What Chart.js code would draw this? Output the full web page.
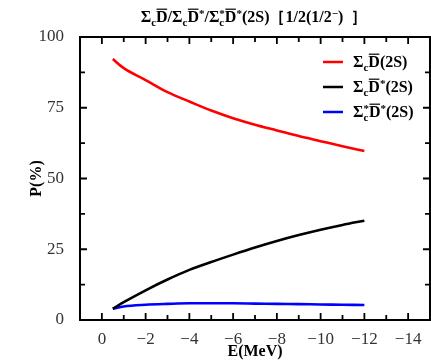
<!DOCTYPE html>
<html>
<head>
<meta charset="utf-8">
<script src="https://cdn.jsdelivr.net/npm/chart.js@4/dist/chart.umd.min.js"></script>
<style>
  body { margin: 0; background: #fff; }
  #wrap { width: 431px; height: 361px; }
</style>
</head>
<body>
<div id="wrap"><canvas id="prob" width="431" height="361"></canvas></div>
<script>
// binding energy (MeV) and probabilities (%) of each channel
const energies = [-0.5, -1, -2, -3, -4, -5, -6, -7, -8, -9, -10, -11, -12];
const pSigmaD = [92.2, 89.0, 84.8, 80.5, 77.2, 74.0, 71.3, 69.0, 67.0, 65.0, 63.2, 61.4, 59.7];
const pSigmaDstar = [4.0, 6.3, 10.5, 14.3, 17.7, 20.5, 23.1, 25.6, 27.9, 30.0, 31.9, 33.6, 35.1];
const pSigmaStarDstar = [4.0, 4.8, 5.4, 5.7, 5.9, 5.9, 5.9, 5.8, 5.7, 5.6, 5.5, 5.4, 5.3];

const seriesNames = ["ΣcD̄(2S)", "ΣcD̄*(2S)", "Σc*D̄*(2S)"];
const seriesColors = ["#ff0000", "#000000", "#0000ff"];
const xTickLabels = [0, -2, -4, -6, -8, -10, -12, -14];
const yTickLabels = [0, 25, 50, 75, 100];

// rich text pieces: base text, optional sub/sup, optional overline
const legendParts = [
  [{ t: "Σ", sub: "c" }, { t: "D", bar: true }, { t: "(2S)" }],
  [{ t: "Σ", sub: "c" }, { t: "D", bar: true, sup: "*" }, { t: "(2S)" }],
  [{ t: "Σ", sub: "c", sup: "*" }, { t: "D", bar: true, sup: "*" }, { t: "(2S)" }],
];
const titleParts = [
  { t: "Σ", sub: "c" }, { t: "D", bar: true }, { t: "/" },
  { t: "Σ", sub: "c" }, { t: "D", bar: true, sup: "*" }, { t: "/" },
  { t: "Σ", sub: "c", sup: "*" }, { t: "D", bar: true, sup: "*" },
  { t: "(2S)［1/2(1/2", sup: "−" }, { t: ")  ］" },
];

const FONT = "'Liberation Serif', 'DejaVu Serif', serif";

function richWidth(ctx, parts, size) {
  let w = 0;
  parts.forEach(p => {
    ctx.font = "bold " + size + "px " + FONT;
    w += ctx.measureText(p.t).width;
    ctx.font = "bold " + Math.round(size * 0.7) + "px " + FONT;
    const a = p.sub ? ctx.measureText(p.sub).width : 0;
    const b = p.sup ? ctx.measureText(p.sup).width : 0;
    w += Math.max(a, b);
  });
  return w;
}

function drawRich(ctx, parts, x, y, size) {
  ctx.save();
  ctx.textBaseline = "alphabetic";
  ctx.textAlign = "left";
  ctx.fillStyle = "#000";
  ctx.strokeStyle = "#000";
  let cx = x;
  const small = Math.round(size * 0.7);
  parts.forEach(p => {
    ctx.font = "bold " + size + "px " + FONT;
    const w = ctx.measureText(p.t).width;
    ctx.fillText(p.t, cx, y);
    if (p.bar) {
      ctx.lineWidth = 1.2;
      ctx.beginPath();
      ctx.moveTo(cx + 0.5, y - size * 0.8);
      ctx.lineTo(cx + w - 0.5, y - size * 0.8);
      ctx.stroke();
    }
    cx += w;
    ctx.font = "bold " + small + "px " + FONT;
    let adv = 0;
    if (p.sub) {
      ctx.fillText(p.sub, cx, y + size * 0.22);
      adv = ctx.measureText(p.sub).width;
    }
    if (p.sup) {
      ctx.fillText(p.sup, cx, y - size * 0.3);
      adv = Math.max(adv, ctx.measureText(p.sup).width);
    }
    cx += adv;
  });
  ctx.restore();
}

// frame, inward ticks, title, axis titles and legend
const decorations = {
  id: "decorations",
  afterDraw(chart) {
    const { ctx, chartArea: a, scales: { x, y } } = chart;
    ctx.save();
    ctx.strokeStyle = "#000";
    ctx.lineWidth = 2;
    ctx.strokeRect(a.left, a.top, a.right - a.left, a.bottom - a.top);

    ctx.lineWidth = 1.8;
    ctx.beginPath();
    x.ticks.forEach(t => {
      const px = x.getPixelForValue(t.value);
      if (px <= a.left + 1 || px >= a.right - 1) return;
      const len = t.value % 2 === 0 ? 7 : 5;
      ctx.moveTo(px, a.bottom); ctx.lineTo(px, a.bottom - len);
      ctx.moveTo(px, a.top); ctx.lineTo(px, a.top + len);
    });
    y.ticks.forEach(t => {
      const py = y.getPixelForValue(t.value);
      if (py <= a.top + 1 || py >= a.bottom - 1) return;
      const len = t.value % 25 === 0 ? 7 : 5;
      ctx.moveTo(a.left, py); ctx.lineTo(a.left + len, py);
      ctx.moveTo(a.right, py); ctx.lineTo(a.right - len, py);
    });
    ctx.stroke();

    // axis titles
    ctx.fillStyle = "#000";
    ctx.font = "bold 16px " + FONT;
    ctx.textAlign = "center";
    ctx.textBaseline = "middle";
    ctx.fillText("E(MeV)", (a.left + a.right) / 2, 352);
    ctx.save();
    ctx.translate(37, (a.top + a.bottom) / 2);
    ctx.rotate(-Math.PI / 2);
    ctx.fillText("P(%)", 0, 0);
    ctx.restore();

    // title
    const tw = richWidth(ctx, titleParts, 16);
    drawRich(ctx, titleParts, 254 - tw / 2, 22, 16);

    // legend
    legendParts.forEach((parts, i) => {
      const ly = 62 + i * 25;
      ctx.strokeStyle = seriesColors[i];
      ctx.lineWidth = 2.5;
      ctx.beginPath();
      ctx.moveTo(323, ly); ctx.lineTo(343, ly);
      ctx.stroke();
      drawRich(ctx, parts, 353, ly + 5, 16);
    });
    ctx.restore();
  },
};

const series = [pSigmaD, pSigmaDstar, pSigmaStarDstar];

new Chart(document.getElementById("prob"), {
  type: "line",
  data: {
    datasets: series.map((vals, i) => ({
      label: seriesNames[i],
      data: energies.map((e, k) => ({ x: e, y: vals[k] })),
      borderColor: seriesColors[i],
      borderWidth: 2.6,
      pointRadius: 0,
      cubicInterpolationMode: "monotone",
      fill: false,
    })),
  },
  options: {
    responsive: false,
    animation: false,
    layout: { padding: { left: 0, top: 37, right: 1, bottom: 0 } },
    plugins: { legend: { display: false }, title: { display: false }, tooltip: { enabled: false } },
    scales: {
      x: {
        type: "linear",
        reverse: true,
        min: -15,
        max: 1,
        grid: { display: false },
        border: { display: false },
        afterFit(s) { s.height = 41; },
        ticks: {
          stepSize: 1,
          autoSkip: false,
          maxRotation: 0,
          padding: 1,
          color: "#333",
          font: { family: FONT, size: 17 },
          callback: v => xTickLabels.includes(v) ? (v === 0 ? "0" : "\u2212" + Math.abs(v)) : "",
        },
      },
      y: {
        min: 0,
        max: 100,
        grid: { display: false },
        border: { display: false },
        afterFit(s) { s.width = 80; },
        ticks: {
          stepSize: 12.5,
          autoSkip: false,
          padding: 8,
          color: "#333",
          font: { family: FONT, size: 17 },
          callback: v => yTickLabels.includes(v) ? String(v) : "",
        },
      },
    },
  },
  plugins: [decorations],
});
</script>
</body>
</html>
